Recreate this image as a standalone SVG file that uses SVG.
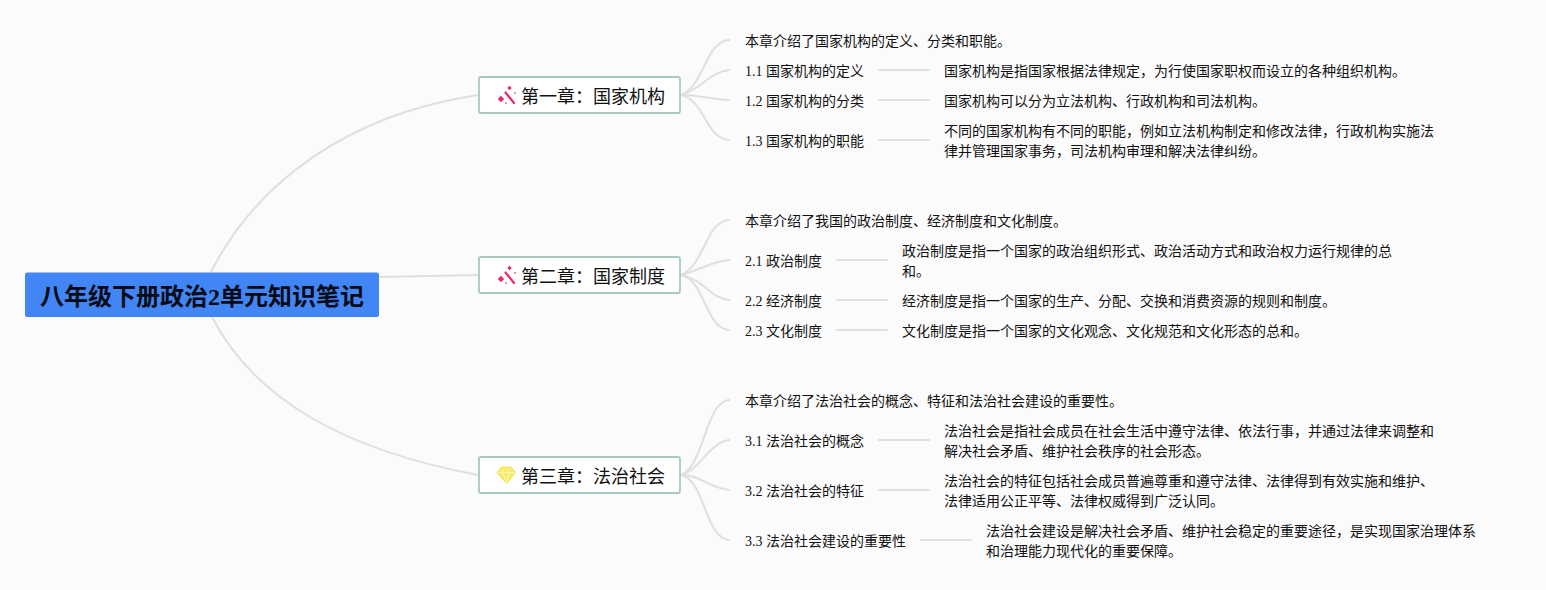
<svg xmlns="http://www.w3.org/2000/svg" width="1546" height="590" viewBox="0 0 1546 590">
<style>
text{font-family:"Liberation Serif","Noto Sans CJK SC",serif;fill:#111}
.c{fill:none;stroke:#dfdfdf;stroke-width:2;stroke-linecap:round}
.l{font-size:14px}
.t{font-size:18px}
.b{fill:#fff;stroke:#a8c9be;stroke-width:1.800}
</style>
<defs>
<g id="wand">
<path d="M505.500 92.500L514 103" fill="none" stroke="#e8286f" stroke-width="2.200" stroke-linecap="round"/>
<path fill="#e8286f" d="M501 95.800l3.200 3.200-3.200 3.200-3.200-3.200z M509.500 85.800l2.200 2.200-2.200 2.200-2.200-2.200z M515 92l1 1-1 1-1-1z M506 102l1 1-1 1-1-1z"/>
</g>
</defs>
<rect width="1546" height="590" fill="#fbfbfb"/>
<g id="connectors">
<path class="c" d="M211 272C255 185 345 115 478 95"/>
<path class="c" d="M380 277L478 275"/>
<path class="c" d="M212 317C255 400 345 450 478 475"/>
<path class="c" d="M681 95C705 85 705 42 729 40"/>
<path class="c" d="M681 95C700 90 710 72 729 70"/>
<path class="c" d="M681 95C700 95 710 99 729 100"/>
<path class="c" d="M681 95C705 100 705 138 729 140"/>
<path class="c" d="M879 70H929"/><path class="c" d="M879 100H929"/><path class="c" d="M879 140H929"/>
<path class="c" d="M681 275C705 265 705 222 729 220"/>
<path class="c" d="M681 275C700 270 710 262 729 260"/>
<path class="c" d="M681 275C705 280 710 298 729 300"/>
<path class="c" d="M681 275C705 280 705 328 729 330"/>
<path class="c" d="M837 260H887"/><path class="c" d="M837 300H887"/><path class="c" d="M837 330H887"/>
<path class="c" d="M681 475C705 465 705 402 729 400"/>
<path class="c" d="M681 475C700 470 710 442 729 440"/>
<path class="c" d="M681 475C700 475 710 488 729 490"/>
<path class="c" d="M681 475C705 480 705 538 729 540"/>
<path class="c" d="M879 440H929"/><path class="c" d="M879 490H929"/><path class="c" d="M921 540H971"/>
</g>
<g id="root"><rect x="25" y="272.500" width="354" height="44.500" rx="2.500" fill="#4285f4"/><text x="202" y="305" text-anchor="middle" font-size="24" font-weight="700" style="fill:#050b14">八年级下册政治2单元知识笔记</text></g>
<g id="ch1"><rect class="b" x="479" y="77" width="201" height="36" rx="2"/><use href="#wand"/><text class="t" x="521" y="103">第一章：国家机构</text></g>
<g id="ch2"><rect class="b" x="479" y="257" width="201" height="36" rx="2"/><use href="#wand" y="180"/><text class="t" x="521" y="283">第二章：国家制度</text></g>
<g id="ch3"><rect class="b" x="479" y="457" width="201" height="36" rx="2"/>
<path d="M501.500 467h9.500l4.500 5.500-9 11-9.500-11z" fill="#f7ec6c" stroke="#f2e24e" stroke-linejoin="round"/>
<path d="M497.500 472.500h17.500M503 472.500l3 10.500 3.500-10.500M503 472.500l1.500-5M509.500 472.500l-1.500-5" fill="none" stroke="#fbf6b8" stroke-width="0.900"/>
<text class="t" x="521" y="483">第三章：法治社会</text></g>
<g id="n10"><text class="l" x="745" y="46">本章介绍了国家机构的定义、分类和职能。</text></g>
<g id="n11"><text class="l" x="745" y="76">1.1 国家机构的定义</text><text class="l" x="944" y="76">国家机构是指国家根据法律规定，为行使国家职权而设立的各种组织机构。</text></g>
<g id="n12"><text class="l" x="745" y="106">1.2 国家机构的分类</text><text class="l" x="944" y="106">国家机构可以分为立法机构、行政机构和司法机构。</text></g>
<g id="n13"><text class="l" x="745" y="146">1.3 国家机构的职能</text><text class="l" x="944" y="136">不同的国家机构有不同的职能，例如立法机构制定和修改法律，行政机构实施法</text><text class="l" x="944" y="156">律并管理国家事务，司法机构审理和解决法律纠纷。</text></g>
<g id="n20"><text class="l" x="745" y="226">本章介绍了我国的政治制度、经济制度和文化制度。</text></g>
<g id="n21"><text class="l" x="745" y="266">2.1 政治制度</text><text class="l" x="902" y="256">政治制度是指一个国家的政治组织形式、政治活动方式和政治权力运行规律的总</text><text class="l" x="902" y="276">和。</text></g>
<g id="n22"><text class="l" x="745" y="306">2.2 经济制度</text><text class="l" x="902" y="306">经济制度是指一个国家的生产、分配、交换和消费资源的规则和制度。</text></g>
<g id="n23"><text class="l" x="745" y="336">2.3 文化制度</text><text class="l" x="902" y="336">文化制度是指一个国家的文化观念、文化规范和文化形态的总和。</text></g>
<g id="n30"><text class="l" x="745" y="406">本章介绍了法治社会的概念、特征和法治社会建设的重要性。</text></g>
<g id="n31"><text class="l" x="745" y="446">3.1 法治社会的概念</text><text class="l" x="944" y="436">法治社会是指社会成员在社会生活中遵守法律、依法行事，并通过法律来调整和</text><text class="l" x="944" y="456">解决社会矛盾、维护社会秩序的社会形态。</text></g>
<g id="n32"><text class="l" x="745" y="496">3.2 法治社会的特征</text><text class="l" x="944" y="486">法治社会的特征包括社会成员普遍尊重和遵守法律、法律得到有效实施和维护、</text><text class="l" x="944" y="506">法律适用公正平等、法律权威得到广泛认同。</text></g>
<g id="n33"><text class="l" x="745" y="546">3.3 法治社会建设的重要性</text><text class="l" x="986" y="536">法治社会建设是解决社会矛盾、维护社会稳定的重要途径，是实现国家治理体系</text><text class="l" x="986" y="556">和治理能力现代化的重要保障。</text></g>
</svg>
